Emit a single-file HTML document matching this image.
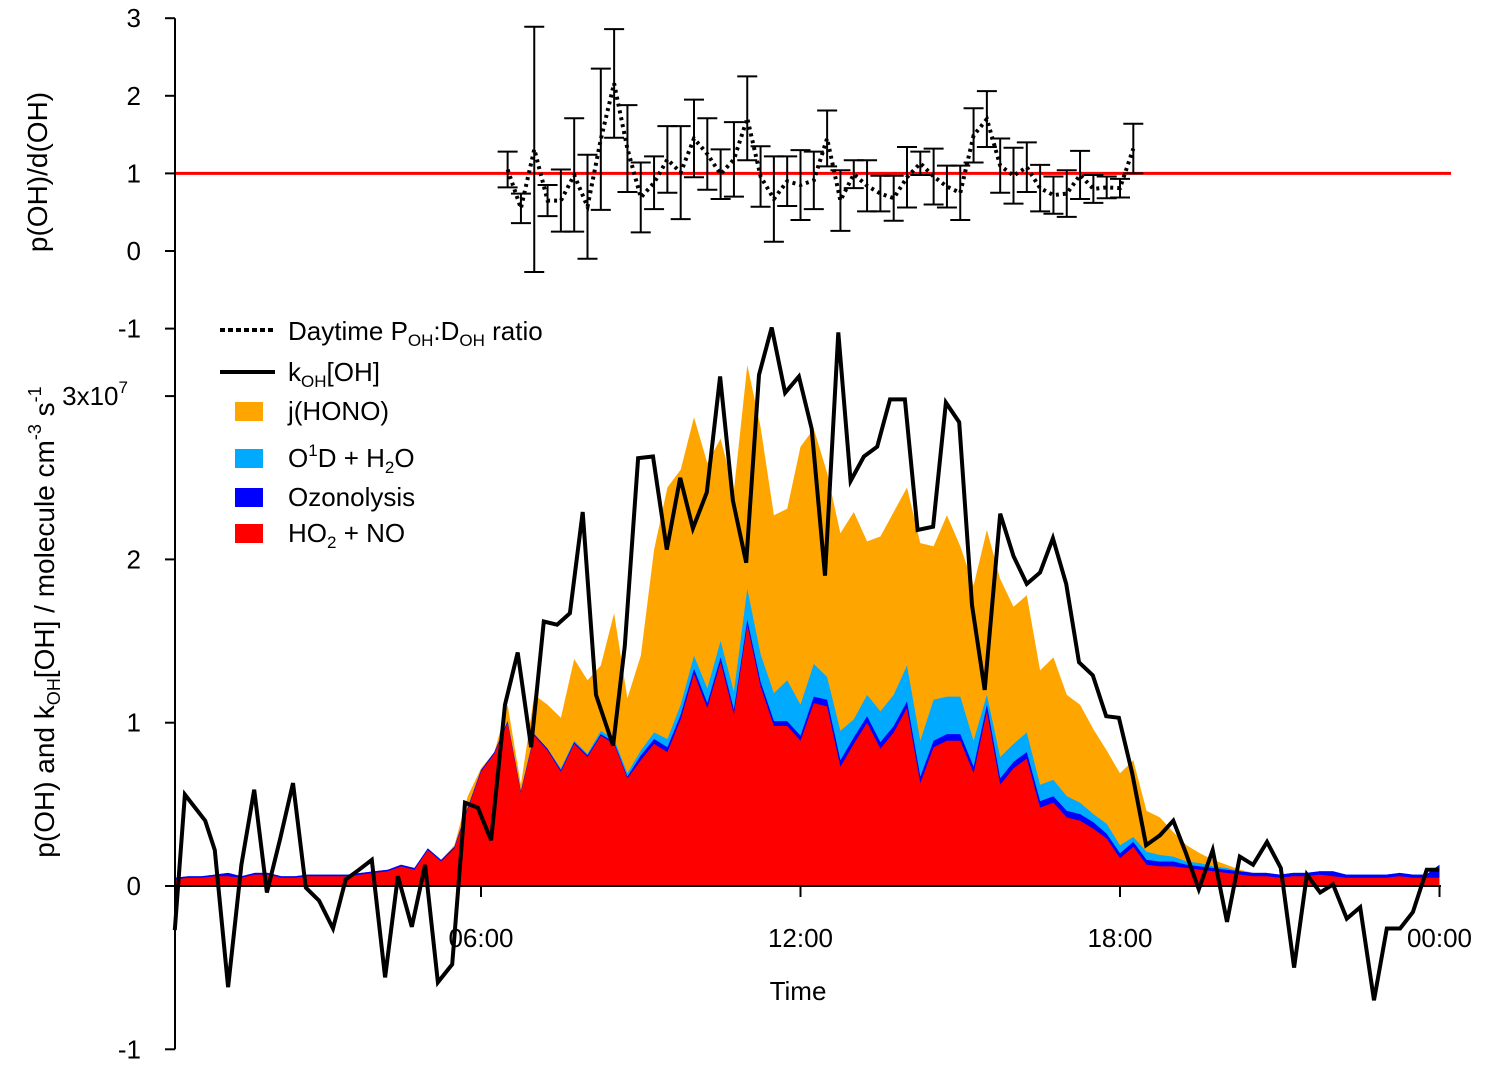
<!DOCTYPE html>
<html><head><meta charset="utf-8">
<style>
html,body{margin:0;padding:0;background:#fff;}
svg{display:block;font-family:"Liberation Sans",Arial,sans-serif;}
</style></head>
<body>
<svg id="chart" width="1488" height="1072" viewBox="0 0 1488 1072" xmlns="http://www.w3.org/2000/svg">
<g id="areas"></g>
<g id="kline"></g>
<g id="topPanel"></g>
<g id="axes"></g>
<g id="legend">
  <g>
    <line x1="220" y1="330" x2="275" y2="330" stroke="#000" stroke-width="4" stroke-dasharray="5,3"/>
    <text x="288" y="340" font-size="26">Daytime P<tspan font-size="17" dy="6">OH</tspan><tspan dy="-6">:D</tspan><tspan font-size="17" dy="6">OH</tspan><tspan dy="-6"> ratio</tspan></text>
  </g>
  <g>
    <line x1="220" y1="372" x2="275" y2="372" stroke="#000" stroke-width="4"/>
    <text x="288" y="381" font-size="26">k<tspan font-size="17" dy="6">OH</tspan><tspan dy="-6">[OH]</tspan></text>
  </g>
  <g>
    <rect x="235" y="402" width="28" height="19" fill="#FFA500"/>
    <text x="288" y="420" font-size="26">j(HONO)</text>
  </g>
  <g>
    <rect x="235" y="449" width="28" height="19" fill="#00AAFF"/>
    <text x="288" y="467" font-size="26">O<tspan font-size="17" dy="-11">1</tspan><tspan dy="11">D + H</tspan><tspan font-size="17" dy="6">2</tspan><tspan dy="-6">O</tspan></text>
  </g>
  <g>
    <rect x="235" y="488" width="28" height="19" fill="#0000FF"/>
    <text x="288" y="506" font-size="26">Ozonolysis</text>
  </g>
  <g>
    <rect x="235" y="524" width="28" height="19" fill="#FF0000"/>
    <text x="288" y="542" font-size="26">HO<tspan font-size="17" dy="6">2</tspan><tspan dy="-6"> + NO</tspan></text>
  </g>
</g>
</svg>
<script>
const hoNO = [0.04,0.05,0.05,0.06,0.06,0.05,0.07,0.07,0.05,0.05,0.06,0.06,0.06,0.06,0.07,0.08,0.09,0.12,0.10,0.22,0.15,
0.23,0.47,0.70,0.81,1.00,0.57,0.92,0.83,0.70,0.87,0.79,0.92,0.87,0.66,0.77,0.87,0.82,1.02,1.30,1.09,1.37,1.05,1.60,1.22,0.98,0.98,
0.89,1.12,1.10,0.73,0.87,1.00,0.84,0.94,1.09,0.63,0.85,0.89,0.89,0.69,1.07,0.62,0.72,0.78,0.48,0.51,0.42,0.40,0.35,0.29,0.17,0.24,0.13,0.12,
0.12,0.11,0.10,0.09,0.08,0.07,0.06,0.06,0.05,0.06,0.06,0.07,0.06,0.05,0.05,0.05,0.05,0.06,0.05,0.05,0.05];
const ozonolysis = [0.01,0.01,0.01,0.01,0.02,0.01,0.01,0.01,0.01,0.01,0.01,0.01,0.01,0.01,0.01,0.01,0.01,0.01,0.01,0.01,0.01,
0.01,0.01,0.01,0.01,0.01,0.01,0.01,0.01,0.01,0.01,0.01,0.01,0.01,0.01,0.03,0.03,0.03,0.03,0.03,0.03,0.03,0.03,0.03,0.03,0.03,0.03,
0.03,0.04,0.04,0.04,0.04,0.04,0.04,0.04,0.04,0.04,0.04,0.04,0.04,0.04,0.04,0.04,0.04,0.04,0.04,0.04,0.04,0.04,0.04,0.03,0.03,0.03,0.03,0.03,
0.03,0.02,0.02,0.02,0.02,0.02,0.02,0.02,0.02,0.02,0.02,0.02,0.03,0.02,0.02,0.02,0.02,0.02,0.02,0.02,0.08];
const o1d = [0,0,0,0,0,0,0,0,0,0,0,0,0,0,0,0,0,0,0,0,0,
0,0,0,0,0,0,0,0,0.01,0.01,0.01,0.02,0.02,0.02,0.03,0.04,0.05,0.06,0.08,0.09,0.10,0.11,0.19,0.17,0.17,0.25,
0.19,0.20,0.14,0.18,0.11,0.13,0.19,0.19,0.22,0.22,0.25,0.23,0.23,0.16,0.06,0.13,0.11,0.12,0.10,0.10,0.09,0.07,0.05,0.06,0.05,0.03,0.05,0.04,
0.03,0.02,0.02,0.01,0.01,0,0,0,0,0,0,0,0,0,0,0,0,0,0,0,0];
const hono = [0,0,0,0,0,0,0,0,0,0,0,0,0,0,0,0,0,0,0,0,0,
0.01,0.07,0.01,0,0.10,0.04,0.24,0.27,0.31,0.50,0.45,0.40,0.77,0.46,0.58,1.12,1.54,1.44,1.46,1.38,1.24,1.23,1.37,1.39,1.09,1.05,
1.58,1.44,1.25,1.21,1.27,0.94,1.07,1.12,1.09,1.21,0.94,1.11,0.92,0.95,1.01,1.09,0.84,0.84,0.70,0.75,0.62,0.60,0.52,0.45,0.44,0.47,0.25,0.23,
0.15,0.10,0.06,0.04,0.02,0.01,0,0,0,0,0,0,0,0,0,0,0,0,0,0,0];
const kohTime = [0.25,0.44,0.82,1.0,1.25,1.5,1.74,1.98,2.23,2.47,2.71,2.96,3.22,3.46,3.71,3.95,4.2,4.44,4.7,4.95,5.19,5.46,5.7,5.94,6.19,6.45,6.69,6.94,7.18,7.43,7.67,7.91,8.16,8.48,8.7,8.95,9.23,9.49,9.74,9.98,10.24,10.49,10.73,10.98,11.22,11.46,11.71,11.97,12.21,12.46,12.71,12.94,13.19,13.44,13.68,13.96,14.2,14.49,14.73,14.98,15.22,15.46,15.75,16.0,16.25,16.5,16.74,16.99,17.23,17.49,17.74,17.98,18.23,18.49,18.75,19.0,19.24,19.48,19.74,20.01,20.25,20.5,20.76,21.02,21.27,21.51,21.76,22.0,22.26,22.51,22.77,23.01,23.26,23.5,23.76,24.0];
const kohOH = [-0.27,0.56,0.40,0.22,-0.62,0.13,0.59,-0.04,0.29,0.63,-0.01,-0.09,-0.26,0.04,0.10,0.16,-0.56,0.06,-0.25,0.13,-0.59,-0.48,0.51,0.48,0.28,1.11,1.43,0.85,1.62,1.60,1.67,2.29,1.17,0.86,1.47,2.62,2.63,2.06,2.50,2.19,2.41,3.12,2.36,1.98,3.13,3.42,3.02,3.12,2.80,1.90,3.39,2.48,2.63,2.69,2.98,2.98,2.18,2.20,2.96,2.84,1.72,1.20,2.28,2.02,1.85,1.92,2.13,1.85,1.37,1.29,1.04,1.03,0.69,0.25,0.31,0.40,0.20,-0.02,0.22,-0.22,0.18,0.13,0.27,0.11,-0.50,0.07,-0.04,0.01,-0.20,-0.13,-0.70,-0.26,-0.26,-0.16,0.10,0.10];
const ratioVal = [1.05,0.55,1.31,0.65,0.65,0.98,0.57,1.44,2.16,1.32,0.69,0.88,1.18,1.01,1.45,1.25,0.99,1.18,1.71,0.96,0.67,0.90,0.85,0.91,
1.45,0.65,0.99,0.84,0.74,0.68,0.95,1.13,0.96,0.83,0.75,1.49,1.70,1.10,0.97,1.08,0.81,0.72,0.74,0.98,0.80,0.82,0.81,1.32];
const ratioErr = [0.23,0.19,1.58,0.20,0.40,0.73,0.67,0.91,0.70,0.56,0.45,0.34,0.43,0.60,0.50,0.46,0.32,0.48,0.54,0.39,0.55,0.32,0.45,0.37,
0.36,0.39,0.18,0.33,0.23,0.29,0.39,0.15,0.36,0.27,0.35,0.35,0.36,0.35,0.36,0.32,0.30,0.24,0.30,0.31,0.18,0.14,0.12,0.32];
const bottomTicks = [-1,0,1,2,3];
const bottomTickLabels = ["-1","0","1","2","3x10"];
const topTicks = [-1,0,1,2,3];
const xTickHours = [6,12,18,24];
const xTickLabels = ["06:00","12:00","18:00","00:00"];

const NS = "http://www.w3.org/2000/svg";
const X = h => 161.5 + 53.25*h;
const YB = v => 886 - 163.3*v;
const YT = v => 251 - 77.6*v;
function mk(tag, attrs, parent){const e=document.createElementNS(NS,tag);for(const k in attrs)e.setAttribute(k,attrs[k]);parent.appendChild(e);return e;}

const areasG = document.getElementById('areas');
const n = hoNO.length;
const gridH = i => 0.25 + 0.25*i;
const c1=[],c2=[],c3=[],c4=[];
for(let i=0;i<n;i++){c1.push(hoNO[i]);c2.push(c1[i]+ozonolysis[i]);c3.push(c2[i]+o1d[i]);c4.push(c3[i]+hono[i]);}
const layers=[[c4,'#FFA500','area-hono'],[c3,'#00AAFF','area-o1d-h2o'],[c2,'#0000FF','area-ozonolysis'],[c1,'#FF0000','area-ho2-no']];
for(const [arr,col,name] of layers){
  let d='M'+X(gridH(0))+','+YB(0);
  for(let i=0;i<n;i++) d+=' L'+X(gridH(i)).toFixed(1)+','+YB(arr[i]).toFixed(1);
  d+=' L'+X(gridH(n-1))+','+YB(0)+' Z';
  const p=mk('path',{d:d,fill:col},areasG);
  
  
}
const kl=document.getElementById('kline');
let kd='';
for(let i=0;i<Math.min(kohTime.length,kohOH.length);i++) kd+=(i?' L':'M')+X(kohTime[i]).toFixed(1)+','+YB(kohOH[i]).toFixed(1);
const kp=mk('path',{d:kd,fill:'none',stroke:'#000','stroke-width':4,'stroke-linejoin':'miter'},kl);



const topG=document.getElementById('topPanel');
const rl=mk('line',{x1:175,y1:YT(1),x2:1451,y2:YT(1),stroke:'#FF0000','stroke-width':3},topG);


for(let i=0;i<ratioVal.length;i++){
  const h=6.5+0.25*i, x=X(h), t=YT(ratioVal[i]+ratioErr[i]), b=YT(ratioVal[i]-ratioErr[i]);
  const g=mk('g',{},topG);
  
  
  mk('line',{x1:x,y1:t,x2:x,y2:b,stroke:'#000','stroke-width':2},g);
  mk('line',{x1:x-10,y1:t,x2:x+10,y2:t,stroke:'#000','stroke-width':2},g);
  mk('line',{x1:x-10,y1:b,x2:x+10,y2:b,stroke:'#000','stroke-width':2},g);
}
let rd='';
for(let i=0;i<ratioVal.length;i++) rd+=(i?' L':'M')+X(6.5+0.25*i).toFixed(1)+','+YT(ratioVal[i]).toFixed(1);
const rp=mk('path',{d:rd,fill:'none',stroke:'#000','stroke-width':4,'stroke-dasharray':'3,4'},topG);



const ax=document.getElementById('axes');
const yl=mk('line',{x1:175,y1:YT(3),x2:175,y2:YB(-1),stroke:'#000','stroke-width':2},ax);


const xl=mk('line',{x1:175,y1:886,x2:1441,y2:886,stroke:'#000','stroke-width':2},ax);


for(const v of topTicks){
  const y=YT(v);
  mk('line',{x1:165,y1:y,x2:175,y2:y,stroke:'#000','stroke-width':2},ax);
  const t=mk('text',{x:141,y:y+9,'font-size':26,'text-anchor':'end'},ax);t.textContent=String(v);
  
  
}
bottomTicks.forEach((v,i)=>{
  const y=YB(v);
  mk('line',{x1:165,y1:y,x2:175,y2:y,stroke:'#000','stroke-width':2},ax);
  const t=mk('text',{x:141,y:y+9,'font-size':26,'text-anchor':'end'},ax);
  t.textContent=bottomTickLabels[i];
  if(bottomTickLabels[i].indexOf('x10')>=0){t.setAttribute('x',128);const s=mk('tspan',{'font-size':17,dy:-12},t);s.textContent='7';}
  
  
});
xTickHours.forEach((h,i)=>{
  const x=X(h);
  mk('line',{x1:x,y1:886,x2:x,y2:897,stroke:'#000','stroke-width':2},ax);
  const t=mk('text',{x:x,y:947,'font-size':26,'text-anchor':'middle'},ax);t.textContent=xTickLabels[i];
  
  
});
const xt=mk('text',{x:798,y:1000,'font-size':26,'text-anchor':'middle'},ax);xt.textContent='Time';


const yt1=mk('text',{x:0,y:0,'font-size':28,'text-anchor':'middle',transform:'translate(47,172) rotate(-90)'},ax);yt1.textContent='p(OH)/d(OH)';


const yt2=mk('text',{x:0,y:0,'font-size':28,'text-anchor':'middle',transform:'translate(54,622) rotate(-90)'},ax);
yt2.innerHTML='p(OH) and k<tspan font-size="18" dy="6">OH</tspan><tspan dy="-6">[OH] / molecule cm</tspan><tspan font-size="18" dy="-13">-3</tspan><tspan dy="13"> s</tspan><tspan font-size="18" dy="-13">-1</tspan>';


</script>
</body></html>
